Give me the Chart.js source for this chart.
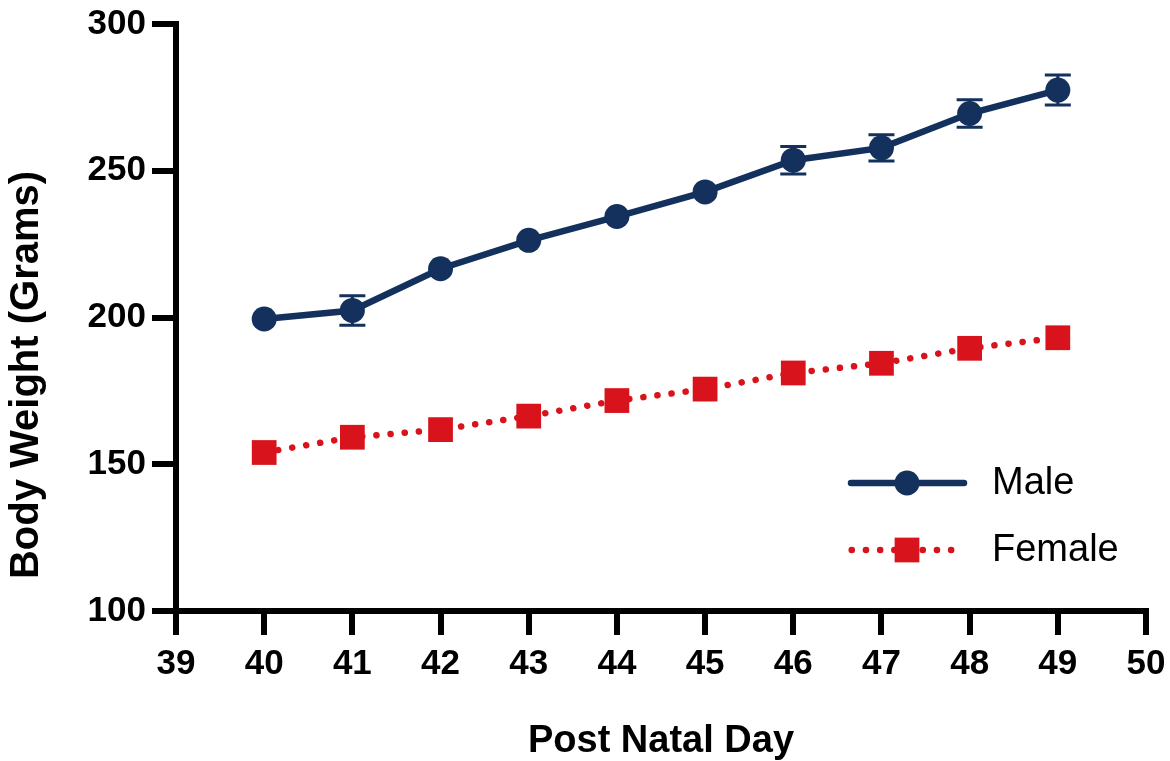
<!DOCTYPE html>
<html>
<head>
<meta charset="utf-8">
<script src="https://cdn.jsdelivr.net/npm/chart.js@4.4.1/dist/chart.umd.min.js"></script>
<style>
html, body { margin: 0; padding: 0; background: #ffffff; }
#wrap { width: 1170px; height: 761px; position: relative; }
</style>
</head>
<body>
<div id="wrap"><canvas id="chart" width="1170" height="761"></canvas></div>
<script>
// ---- data ----
const days = [40, 41, 42, 43, 44, 45, 46, 47, 48, 49];
const maleWeight = [199.5, 202.4, 216.6, 226.3, 234.4, 242.8, 253.6, 257.8, 269.5, 277.5];
const maleError = [3.0, 5.0, 3.0, 3.0, 3.0, 4.2, 4.7, 4.5, 4.7, 5.1];
const femaleWeight = [154.0, 159.2, 161.8, 166.4, 171.7, 175.6, 181.1, 184.4, 189.5, 193.1];
const femaleError = [2.0, 2.0, 2.0, 2.0, 2.0, 2.0, 2.0, 2.0, 2.0, 2.0];
const xTickValues = [39, 40, 41, 42, 43, 44, 45, 46, 47, 48, 49, 50];
const yTickValues = [100, 150, 200, 250, 300];
const seriesNames = ['Male', 'Female'];
const xTitle = 'Post Natal Day';
const yTitle = 'Body Weight (Grams)';

const NAVY = '#13315c';
const RED = '#d9131b';
const FONT = '"Liberation Sans", Arial, Helvetica, sans-serif';

function toPoints(xs, ys) { return xs.map((x, i) => ({ x: x, y: ys[i] })); }

// error bars drawn through the chart's scales
const errorBarPlugin = {
  id: 'errorBars',
  beforeDatasetsDraw(chart) {
    const ctx = chart.ctx;
    const xs = chart.scales.x, ys = chart.scales.y;
    chart.data.datasets.forEach((ds) => {
      if (!ds.errorValues) return;
      ctx.save();
      ctx.strokeStyle = ds.borderColor;
      ctx.lineWidth = 3;
      ctx.lineCap = 'butt';
      ds.data.forEach((p, i) => {
        const e = ds.errorValues[i];
        const px = xs.getPixelForValue(p.x);
        const py = ys.getPixelForValue(p.y);
        const top = ys.getPixelForValue(p.y + e);
        const bot = ys.getPixelForValue(p.y - e);
        const half = ds.pointStyle === 'rect' ? ds.pointRadius * Math.SQRT1_2 : ds.pointRadius;
        if (py - top <= half) return; // hidden inside the symbol
        ctx.beginPath();
        ctx.moveTo(px, top); ctx.lineTo(px, bot);
        ctx.moveTo(px - 13, top); ctx.lineTo(px + 13, top);
        ctx.moveTo(px - 13, bot); ctx.lineTo(px + 13, bot);
        ctx.stroke();
      });
      ctx.restore();
    });
  }
};

// legend (line + symbol) and rotated y title
const decorPlugin = {
  id: 'decor',
  afterDraw(chart) {
    const ctx = chart.ctx;
    ctx.save();
    // y title
    ctx.translate(27, 375);
    ctx.rotate(-Math.PI / 2);
    ctx.fillStyle = '#000';
    ctx.font = 'bold 40px ' + FONT;
    ctx.textAlign = 'center';
    ctx.textBaseline = 'middle';
    ctx.fillText(yTitle, 0, 0);
    ctx.restore();

    // legend
    const rows = [483, 550];
    chart.data.datasets.forEach((ds, i) => {
      const y = rows[i];
      ctx.save();
      ctx.strokeStyle = ds.borderColor;
      ctx.lineWidth = ds.borderWidth;
      ctx.lineCap = 'round';
      if (ds.borderDash) {
        ctx.setLineDash(ds.borderDash);
        ctx.beginPath(); ctx.moveTo(851.7, y); ctx.lineTo(953, y); ctx.stroke();
      } else {
        ctx.beginPath(); ctx.moveTo(851, y); ctx.lineTo(964, y); ctx.stroke();
      }
      ctx.setLineDash([]);
      ctx.fillStyle = ds.pointBackgroundColor;
      if (ds.pointStyle === 'rect') {
        const s = ds.pointRadius * Math.SQRT1_2;
        ctx.fillRect(907 - s, y - s, 2 * s, 2 * s);
      } else {
        ctx.beginPath(); ctx.arc(907, y, ds.pointRadius, 0, Math.PI * 2); ctx.fill();
      }
      ctx.fillStyle = '#000';
      ctx.font = '38px ' + FONT;
      ctx.textAlign = 'left';
      ctx.textBaseline = 'middle';
      ctx.fillText(ds.label, 992, y + 1);
      ctx.restore();
    });
  }
};

new Chart(document.getElementById('chart'), {
  type: 'line',
  data: {
    datasets: [
      {
        label: seriesNames[0],
        data: toPoints(days, maleWeight),
        errorValues: maleError,
        borderColor: NAVY,
        backgroundColor: NAVY,
        borderWidth: 6.5,
        pointStyle: 'circle',
        pointRadius: 12.5,
        pointBackgroundColor: NAVY,
        pointBorderWidth: 0,
        tension: 0,
        fill: false
      },
      {
        label: seriesNames[1],
        data: toPoints(days, femaleWeight),
        errorValues: femaleError,
        borderColor: RED,
        backgroundColor: RED,
        borderWidth: 6.5,
        borderDash: [0.1, 14.1],
        borderCapStyle: 'round',
        pointStyle: 'rect',
        pointRadius: 17.5,
        pointBackgroundColor: RED,
        pointBorderWidth: 0,
        tension: 0,
        fill: false
      }
    ]
  },
  options: {
    responsive: false,
    devicePixelRatio: 1,
    animation: false,
    events: [],
    layout: { padding: { top: 24, right: 24, left: 0, bottom: 0 } },
    plugins: { legend: { display: false }, tooltip: { enabled: false } },
    scales: {
      x: {
        type: 'linear',
        min: 39, max: 50,
        afterBuildTicks: (s) => { s.ticks = xTickValues.map(v => ({ value: v })); },
        afterFit: (s) => { s.height = 150; },
        ticks: {
          color: '#000',
          font: { family: FONT, size: 35, weight: 'bold', lineHeight: 1.69 },
          padding: 0,
          maxRotation: 0,
          autoSkip: false
        },
        grid: { drawOnChartArea: false, drawTicks: true, tickLength: 24, lineWidth: 6, color: '#000' },
        border: { display: true, width: 6, color: '#000' },
        title: {
          display: true,
          text: xTitle,
          color: '#000',
          font: { family: FONT, size: 38, weight: 'bold', lineHeight: 1.05 },
          padding: { top: 0, bottom: 0 }
        }
      },
      y: {
        type: 'linear',
        min: 100, max: 300,
        afterBuildTicks: (s) => { s.ticks = yTickValues.map(v => ({ value: v })); },
        afterFit: (s) => { s.width = 176; },
        ticks: {
          color: '#000',
          font: { family: FONT, size: 35, weight: 'bold', lineHeight: 1 },
          padding: 6,
          autoSkip: false
        },
        grid: { drawOnChartArea: false, drawTicks: true, tickLength: 24, lineWidth: 6, color: '#000' },
        border: { display: true, width: 6, color: '#000' }
      }
    }
  },
  plugins: [errorBarPlugin, decorPlugin]
});
</script>
</body>
</html>
